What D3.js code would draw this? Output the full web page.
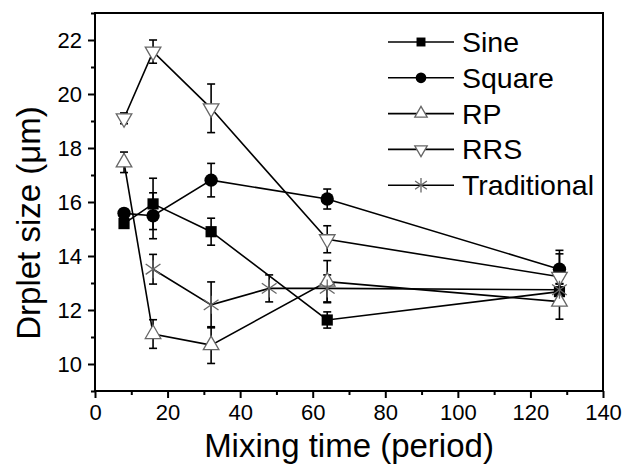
<!DOCTYPE html>
<html>
<head>
<meta charset="utf-8">
<script src="https://cdn.jsdelivr.net/npm/d3@7"></script>
<style>
	body { margin: 0; background: #fff; }
	svg { display: block; font-family: "Liberation Sans", Arial, sans-serif; }
</style>
</head>
<body>
<svg width="623" height="466"></svg>
<script>

var times = [8, 16, 32, 64, 128],
	sine = [15.2, 15.93, 14.9, 11.63, 12.68],
	sineErr = [0.1, 0.95, 0.5, 0.3, 0.3],
	square = [15.58, 15.49, 16.81, 16.11, 13.51],
	squareErr = [0.1, 0.85, 0.62, 0.37, 0.7],
	rp = [17.47, 11.11, 10.7, 13.05, 12.31],
	rpErr = [0.38, 0.53, 0.68, 0.78, 0.65],
	rrs = [19.1, 21.57, 19.47, 14.62, 13.23],
	rrsErr = [0.2, 0.43, 0.9, 0.5, 0.85],
	tradTimes = [16, 32, 48, 64, 128],
	traditional = [13.51, 12.19, 12.8, 12.8, 12.75],
	tradErr = [0.55, 0.85, 0.5, 0.5, 0.4];

var xTicks = [0, 20, 40, 60, 80, 100, 120, 140],
	yTicks = [10, 12, 14, 16, 18, 20, 22];

var series = [
	{name: "Sine", x: times, y: sine, err: sineErr, mark: "square"},
	{name: "Square", x: times, y: square, err: squareErr, mark: "circle"},
	{name: "RP", x: times, y: rp, err: rpErr, mark: "up"},
	{name: "RRS", x: times, y: rrs, err: rrsErr, mark: "down"},
	{name: "Traditional", x: tradTimes, y: traditional, err: tradErr, mark: "star"}
];

// setup.......................................................................

var svg = d3.select("svg"),
	plotL = 95, plotR = 603, plotT = 13, plotB = 391;

var x = d3.scaleLinear().domain([0, 140]).range([plotL, plotR]),
	y = d3.scaleLinear().domain([9, 23]).range([plotB, plotT]);

var line = d3.line()
	.x(function(d) { return x(d[0]); })
	.y(function(d) { return y(d[1]); });

// axes........................................................................

var xAxis = svg.append("g").attr("transform", "translate(0," + plotB + ")");
xAxis.call(d3.axisBottom(x).tickValues(d3.range(10, 140, 20)).tickSize(4).tickFormat(""));
xAxis.append("g").call(d3.axisBottom(x).tickValues(xTicks).tickSize(7).tickPadding(6));

var yAxis = svg.append("g").attr("transform", "translate(" + plotL + ",0)");
yAxis.call(d3.axisLeft(y).tickValues(d3.range(9, 24, 2)).tickSize(4).tickFormat(""));
yAxis.append("g").call(d3.axisLeft(y).tickValues(yTicks).tickSize(7).tickPadding(6));

svg.selectAll(".domain").remove();
svg.selectAll(".tick line").attr("stroke", "#000").attr("stroke-width", 2);
svg.selectAll(".tick text")
	.attr("fill", "#000")
	.style("font-size", "22px")
	.style("font-family", "'Liberation Sans', Arial, sans-serif");

svg.append("rect")
	.attr("x", plotL).attr("y", plotT)
	.attr("width", plotR - plotL).attr("height", plotB - plotT)
	.attr("fill", "none").attr("stroke", "#000").attr("stroke-width", 2);

svg.append("text")
	.attr("x", (plotL + plotR) / 2).attr("y", 457)
	.attr("text-anchor", "middle")
	.style("font-size", "33px")
	.text("Mixing time (period)");

svg.append("text")
	.attr("transform", "translate(40,223) rotate(-90)")
	.attr("text-anchor", "middle")
	.style("font-size", "33px")
	.text("Drplet size (\u03bcm)");

// marks.......................................................................

function drawMark(g, kind, scale) {
	var s = scale || 1;
	if (kind == "square")
		g.append("path").attr("d", d3.symbol(d3.symbolSquare, 125 * s * s)())
			.attr("fill", "#000");
	else if (kind == "circle")
		g.append("path").attr("d", d3.symbol(d3.symbolCircle, 140 * s * s)())
			.attr("fill", "#000");
	else if (kind == "up" || kind == "down")
		g.append("path").attr("d", d3.symbol(d3.symbolTriangle, 105 * s * s)())
			.attr("transform", kind == "down" ? "rotate(180)" : null)
			.attr("fill", "#fff").attr("stroke", "#666").attr("stroke-width", 1.3);
	else {
		var r = 9 * s;
		[90, 35, 145].forEach(function(a) {
			var dx = r * Math.cos(a * Math.PI / 180), dy = r * Math.sin(a * Math.PI / 180);
			g.append("line")
				.attr("x1", -dx).attr("y1", -dy).attr("x2", dx).attr("y2", dy)
				.attr("stroke", "#666").attr("stroke-width", 1.3);
		});
	}
}

var plot = svg.append("g");

series.forEach(function(s) {
	var pts = s.x.map(function(d, i) { return [d, s.y[i], s.err[i]]; });

	plot.append("path")
		.datum(pts)
		.attr("d", line)
		.attr("fill", "none").attr("stroke", "#000").attr("stroke-width", 1.6);

	var eb = plot.append("g").selectAll("g").data(pts).enter().append("g")
		.attr("stroke", "#000").attr("stroke-width", 1.6);
	eb.append("line")
		.attr("x1", function(d) { return x(d[0]); }).attr("x2", function(d) { return x(d[0]); })
		.attr("y1", function(d) { return y(d[1] - d[2]); }).attr("y2", function(d) { return y(d[1] + d[2]); });
	[1, -1].forEach(function(sign) {
		eb.append("line")
			.attr("x1", function(d) { return x(d[0]) - 4; }).attr("x2", function(d) { return x(d[0]) + 4; })
			.attr("y1", function(d) { return y(d[1] + sign * d[2]); })
			.attr("y2", function(d) { return y(d[1] + sign * d[2]); });
	});
});

series.forEach(function(s) {
	s.x.forEach(function(d, i) {
		var g = plot.append("g").attr("transform", "translate(" + x(d) + "," + y(s.y[i]) + ")");
		drawMark(g, s.mark);
	});
});

// legend......................................................................

var legend = svg.append("g").selectAll("g").data(series).enter().append("g")
	.attr("transform", function(d, i) { return "translate(388," + (42 + i * 35.8) + ")"; });

legend.append("line")
	.attr("x1", 0).attr("x2", 66)
	.attr("stroke", "#000").attr("stroke-width", 1.6);
legend.each(function(d) { drawMark(d3.select(this).append("g").attr("transform", "translate(33,0)"), d.mark, 0.8); });
legend.append("text")
	.attr("x", 74).attr("dy", "0.35em")
	.style("font-size", "28.5px")
	.text(function(d) { return d.name; });
</script>
</body>
</html>
